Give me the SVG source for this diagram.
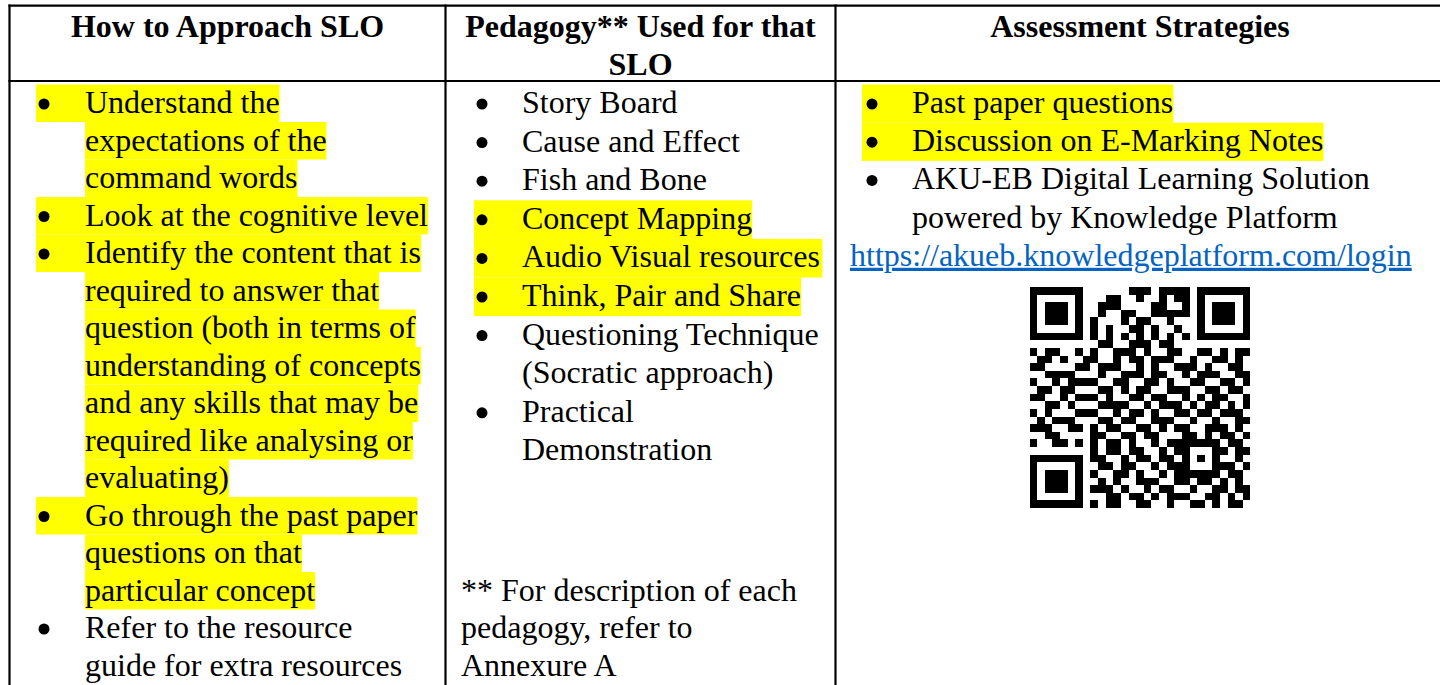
<svg xmlns="http://www.w3.org/2000/svg" width="1440" height="685" viewBox="0 0 1440 685">
  <style>
    .t { font-family: "Liberation Serif", "Times New Roman", serif; font-size: 32px; fill: #000; }
    .b { font-weight: bold; }
    .c { text-anchor: middle; }
    .hl { fill: #FFFF00; }
    .rule { stroke: #000; stroke-width: 2.2; fill: none; }
    .dot { fill: #000; }
    .link { fill: #0563C1; text-decoration: underline; }
  </style>
  <rect width="1440" height="685" fill="#fff"/>

  <!-- table grid -->
  <g id="grid">
    <line class="rule" x1="8.4" y1="5.7" x2="1440" y2="5.7"/>
    <line class="rule" x1="8.4" y1="81" x2="1440" y2="81"/>
    <line class="rule" x1="9.5" y1="4.6" x2="9.5" y2="685"/>
    <line class="rule" x1="445.5" y1="4.6" x2="445.5" y2="685"/>
    <line class="rule" x1="835.5" y1="4.6" x2="835.5" y2="685"/>
  </g>

  <!-- header row -->
  <g id="head-approach">
    <text class="t b c" x="227.5" y="37">How to Approach SLO</text>
  </g>
  <g id="head-pedagogy">
    <text class="t b c" x="640.5" y="37">Pedagogy** Used for that</text>
    <text class="t b c" x="640.5" y="75">SLO</text>
  </g>
  <g id="head-assessment">
    <text class="t b c" x="1140" y="37">Assessment Strategies</text>
  </g>

  <!-- column 1: how to approach -->
  <g id="cell-approach">
    <rect class="hl" x="36" y="84.5" width="243.6" height="37.5"/>
    <rect class="hl" x="85" y="122" width="241.4" height="37.5"/>
    <rect class="hl" x="85" y="159.5" width="212.4" height="37.5"/>
    <rect class="hl" x="36" y="197" width="392.1" height="37.5"/>
    <rect class="hl" x="36" y="234.5" width="385" height="37.5"/>
    <rect class="hl" x="85" y="272" width="294.1" height="37.5"/>
    <rect class="hl" x="85" y="309.5" width="330.7" height="37.5"/>
    <rect class="hl" x="85" y="347" width="335.9" height="37.5"/>
    <rect class="hl" x="85" y="384.5" width="333.3" height="37.5"/>
    <rect class="hl" x="85" y="422" width="327.9" height="37.5"/>
    <rect class="hl" x="85" y="459.5" width="144" height="37.5"/>
    <rect class="hl" x="36" y="497" width="381.4" height="37.5"/>
    <rect class="hl" x="85" y="534.5" width="216.9" height="37.5"/>
    <rect class="hl" x="85" y="572" width="230.1" height="37.5"/>

    <circle class="dot" cx="44" cy="104" r="5.5"/>
    <circle class="dot" cx="44" cy="216.5" r="5.5"/>
    <circle class="dot" cx="44" cy="254" r="5.5"/>
    <circle class="dot" cx="44" cy="516.5" r="5.5"/>
    <circle class="dot" cx="44" cy="629" r="5.5"/>

    <text class="t" x="85" y="113">Understand the</text>
    <text class="t" x="85" y="150.5">expectations of the</text>
    <text class="t" x="85" y="188">command words</text>
    <text class="t" x="85" y="225.5">Look at the cognitive level</text>
    <text class="t" x="85" y="263">Identify the content that is</text>
    <text class="t" x="85" y="300.5">required to answer that</text>
    <text class="t" x="85" y="338">question (both in terms of</text>
    <text class="t" x="85" y="375.5">understanding of concepts</text>
    <text class="t" x="85" y="413">and any skills that may be</text>
    <text class="t" x="85" y="450.5">required like analysing or</text>
    <text class="t" x="85" y="488">evaluating)</text>
    <text class="t" x="85" y="525.5">Go through the past paper</text>
    <text class="t" x="85" y="563">questions on that</text>
    <text class="t" x="85" y="600.5">particular concept</text>
    <text class="t" x="85" y="638">Refer to the resource</text>
    <text class="t" x="85" y="675.5">guide for extra resources</text>
  </g>

  <!-- column 2: pedagogy -->
  <g id="cell-pedagogy">
    <rect class="hl" x="474" y="200.3" width="278.2" height="38.6"/>
    <rect class="hl" x="474" y="238.9" width="348.4" height="38.6"/>
    <rect class="hl" x="474" y="277.5" width="327" height="38.6"/>

    <circle class="dot" cx="482" cy="104" r="5.5"/>
    <circle class="dot" cx="482" cy="142.6" r="5.5"/>
    <circle class="dot" cx="482" cy="181.2" r="5.5"/>
    <circle class="dot" cx="482" cy="219.8" r="5.5"/>
    <circle class="dot" cx="482" cy="258.4" r="5.5"/>
    <circle class="dot" cx="482" cy="297" r="5.5"/>
    <circle class="dot" cx="482" cy="335.6" r="5.5"/>
    <circle class="dot" cx="482" cy="412.8" r="5.5"/>

    <text class="t" x="522" y="113">Story Board</text>
    <text class="t" x="522" y="151.6">Cause and Effect</text>
    <text class="t" x="522" y="190.2">Fish and Bone</text>
    <text class="t" x="522" y="228.8">Concept Mapping</text>
    <text class="t" x="522" y="267.4">Audio Visual resources</text>
    <text class="t" x="522" y="306">Think, Pair and Share</text>
    <text class="t" x="522" y="344.6">Questioning Technique</text>
    <text class="t" x="522" y="383.2">(Socratic approach)</text>
    <text class="t" x="522" y="421.8">Practical</text>
    <text class="t" x="522" y="460.4">Demonstration</text>

    <text class="t" x="461" y="600.5">** For description of each</text>
    <text class="t" x="461" y="638">pedagogy, refer to</text>
    <text class="t" x="461" y="675.5">Annexure A</text>
  </g>

  <!-- column 3: assessment -->
  <g id="cell-assessment">
    <rect class="hl" x="862" y="84.5" width="311.3" height="38.2"/>
    <rect class="hl" x="862" y="122.7" width="461.5" height="38.2"/>

    <circle class="dot" cx="872" cy="104" r="5.5"/>
    <circle class="dot" cx="872" cy="142.2" r="5.5"/>
    <circle class="dot" cx="872" cy="180.4" r="5.5"/>

    <text class="t" x="912" y="113">Past paper questions</text>
    <text class="t" x="912" y="151.2">Discussion on E-Marking Notes</text>
    <text class="t" x="912" y="189.4">AKU-EB Digital Learning Solution</text>
    <text class="t" x="912" y="227.6">powered by Knowledge Platform</text>
    <text class="t link" x="850" y="265.8">https://akueb.knowledgeplatform.com/login</text>
  </g>

  <!-- QR code, 29 x 29 modules -->
  <g id="qr-code" transform="translate(1029.5 287) scale(7.62)" shape-rendering="crispEdges">
    <path fill="#000" d="
M0 0h7v1h-7zM13 0h3v1h-3zM17 0h4v1h-4zM22 0h7v1h-7z
M0 1h1v1h-1zM6 1h1v1h-1zM10 1h2v1h-2zM14 1h1v1h-1zM17 1h1v1h-1zM19 1h2v1h-2zM22 1h1v1h-1zM28 1h1v1h-1z
M0 2h1v1h-1zM2 2h3v1h-3zM6 2h1v1h-1zM9 2h3v1h-3zM16 2h2v1h-2zM20 2h1v1h-1zM22 2h1v1h-1zM24 2h3v1h-3zM28 2h1v1h-1z
M0 3h1v1h-1zM2 3h3v1h-3zM6 3h1v1h-1zM9 3h1v1h-1zM12 3h2v1h-2zM16 3h5v1h-5zM22 3h1v1h-1zM24 3h3v1h-3zM28 3h1v1h-1z
M0 4h1v1h-1zM2 4h3v1h-3zM6 4h1v1h-1zM8 4h1v1h-1zM12 4h1v1h-1zM14 4h2v1h-2zM18 4h1v1h-1zM22 4h1v1h-1zM24 4h3v1h-3zM28 4h1v1h-1z
M0 5h1v1h-1zM6 5h1v1h-1zM8 5h1v1h-1zM10 5h1v1h-1zM13 5h2v1h-2zM16 5h1v1h-1zM19 5h1v1h-1zM22 5h1v1h-1zM28 5h1v1h-1z
M0 6h7v1h-7zM8 6h1v1h-1zM10 6h1v1h-1zM12 6h1v1h-1zM14 6h1v1h-1zM16 6h1v1h-1zM18 6h1v1h-1zM20 6h1v1h-1zM22 6h7v1h-7z
M9 7h2v1h-2zM13 7h3v1h-3zM17 7h2v1h-2z
M0 8h1v1h-1zM2 8h2v1h-2zM6 8h1v1h-1zM8 8h1v1h-1zM11 8h3v1h-3zM15 8h1v1h-1zM18 8h2v1h-2zM22 8h2v1h-2zM25 8h1v1h-1zM27 8h2v1h-2z
M1 9h2v1h-2zM4 9h1v1h-1zM7 9h2v1h-2zM11 9h1v1h-1zM13 9h2v1h-2zM16 9h3v1h-3zM21 9h1v1h-1zM24 9h2v1h-2zM27 9h1v1h-1z
M0 10h2v1h-2zM6 10h2v1h-2zM9 10h3v1h-3zM14 10h1v1h-1zM16 10h1v1h-1zM19 10h3v1h-3zM23 10h1v1h-1zM26 10h2v1h-2z
M2 11h4v1h-4zM9 11h1v1h-1zM12 11h3v1h-3zM16 11h2v1h-2zM20 11h1v1h-1zM22 11h3v1h-3zM27 11h2v1h-2z
M0 12h1v1h-1zM3 12h1v1h-1zM5 12h4v1h-4zM11 12h2v1h-2zM15 12h2v1h-2zM18 12h1v1h-1zM21 12h2v1h-2zM25 12h2v1h-2zM28 12h1v1h-1z
M1 13h2v1h-2zM4 13h2v1h-2zM9 13h2v1h-2zM12 13h1v1h-1zM14 13h2v1h-2zM18 13h3v1h-3zM23 13h2v1h-2zM26 13h2v1h-2z
M0 14h2v1h-2zM4 14h1v1h-1zM6 14h3v1h-3zM10 14h1v1h-1zM13 14h2v1h-2zM16 14h2v1h-2zM20 14h1v1h-1zM22 14h1v1h-1zM24 14h2v1h-2zM28 14h1v1h-1z
M2 15h2v1h-2zM5 15h1v1h-1zM9 15h4v1h-4zM15 15h1v1h-1zM17 15h3v1h-3zM21 15h1v1h-1zM23 15h2v1h-2zM26 15h1v1h-1zM28 15h1v1h-1z
M0 16h1v1h-1zM2 16h1v1h-1zM6 16h3v1h-3zM11 16h1v1h-1zM13 16h2v1h-2zM16 16h1v1h-1zM19 16h2v1h-2zM22 16h2v1h-2zM25 16h3v1h-3z
M1 17h1v1h-1zM3 17h3v1h-3zM9 17h2v1h-2zM12 17h2v1h-2zM16 17h3v1h-3zM21 17h1v1h-1zM24 17h1v1h-1zM27 17h2v1h-2z
M0 18h3v1h-3zM5 18h2v1h-2zM8 18h1v1h-1zM10 18h2v1h-2zM14 18h2v1h-2zM17 18h1v1h-1zM19 18h2v1h-2zM23 18h3v1h-3zM27 18h1v1h-1z
M2 19h2v1h-2zM8 19h2v1h-2zM12 19h2v1h-2zM15 19h2v1h-2zM20 19h2v1h-2zM23 19h1v1h-1zM25 19h2v1h-2zM28 19h1v1h-1z
M0 20h1v1h-1zM3 20h2v1h-2zM6 20h1v1h-1zM8 20h1v1h-1zM10 20h2v1h-2zM13 20h1v1h-1zM16 20h1v1h-1zM18 20h7v1h-7zM26 20h2v1h-2z
M8 21h1v1h-1zM10 21h2v1h-2zM13 21h2v1h-2zM17 21h1v1h-1zM19 21h2v1h-2zM24 21h2v1h-2zM27 21h2v1h-2z
M0 22h7v1h-7zM8 22h2v1h-2zM12 22h1v1h-1zM14 22h2v1h-2zM17 22h2v1h-2zM20 22h1v1h-1zM22 22h1v1h-1zM24 22h1v1h-1zM27 22h1v1h-1z
M0 23h1v1h-1zM6 23h1v1h-1zM9 23h2v1h-2zM12 23h2v1h-2zM16 23h1v1h-1zM18 23h3v1h-3zM24 23h3v1h-3zM28 23h1v1h-1z
M0 24h1v1h-1zM2 24h3v1h-3zM6 24h1v1h-1zM8 24h1v1h-1zM11 24h2v1h-2zM14 24h1v1h-1zM17 24h1v1h-1zM19 24h6v1h-6zM26 24h2v1h-2z
M0 25h1v1h-1zM2 25h3v1h-3zM6 25h1v1h-1zM9 25h1v1h-1zM11 25h1v1h-1zM14 25h3v1h-3zM19 25h2v1h-2zM22 25h2v1h-2zM25 25h1v1h-1zM27 25h1v1h-1z
M0 26h1v1h-1zM2 26h3v1h-3zM6 26h1v1h-1zM8 26h3v1h-3zM12 26h1v1h-1zM15 26h1v1h-1zM17 26h2v1h-2zM21 26h1v1h-1zM24 26h2v1h-2zM27 26h2v1h-2z
M0 27h1v1h-1zM6 27h1v1h-1zM10 27h2v1h-2zM13 27h2v1h-2zM16 27h1v1h-1zM18 27h3v1h-3zM23 27h2v1h-2zM26 27h1v1h-1zM28 27h1v1h-1z
M0 28h7v1h-7zM8 28h1v1h-1zM10 28h2v1h-2zM14 28h2v1h-2zM18 28h1v1h-1zM21 28h2v1h-2zM24 28h1v1h-1zM26 28h2v1h-2z"/>
  </g>
</svg>
